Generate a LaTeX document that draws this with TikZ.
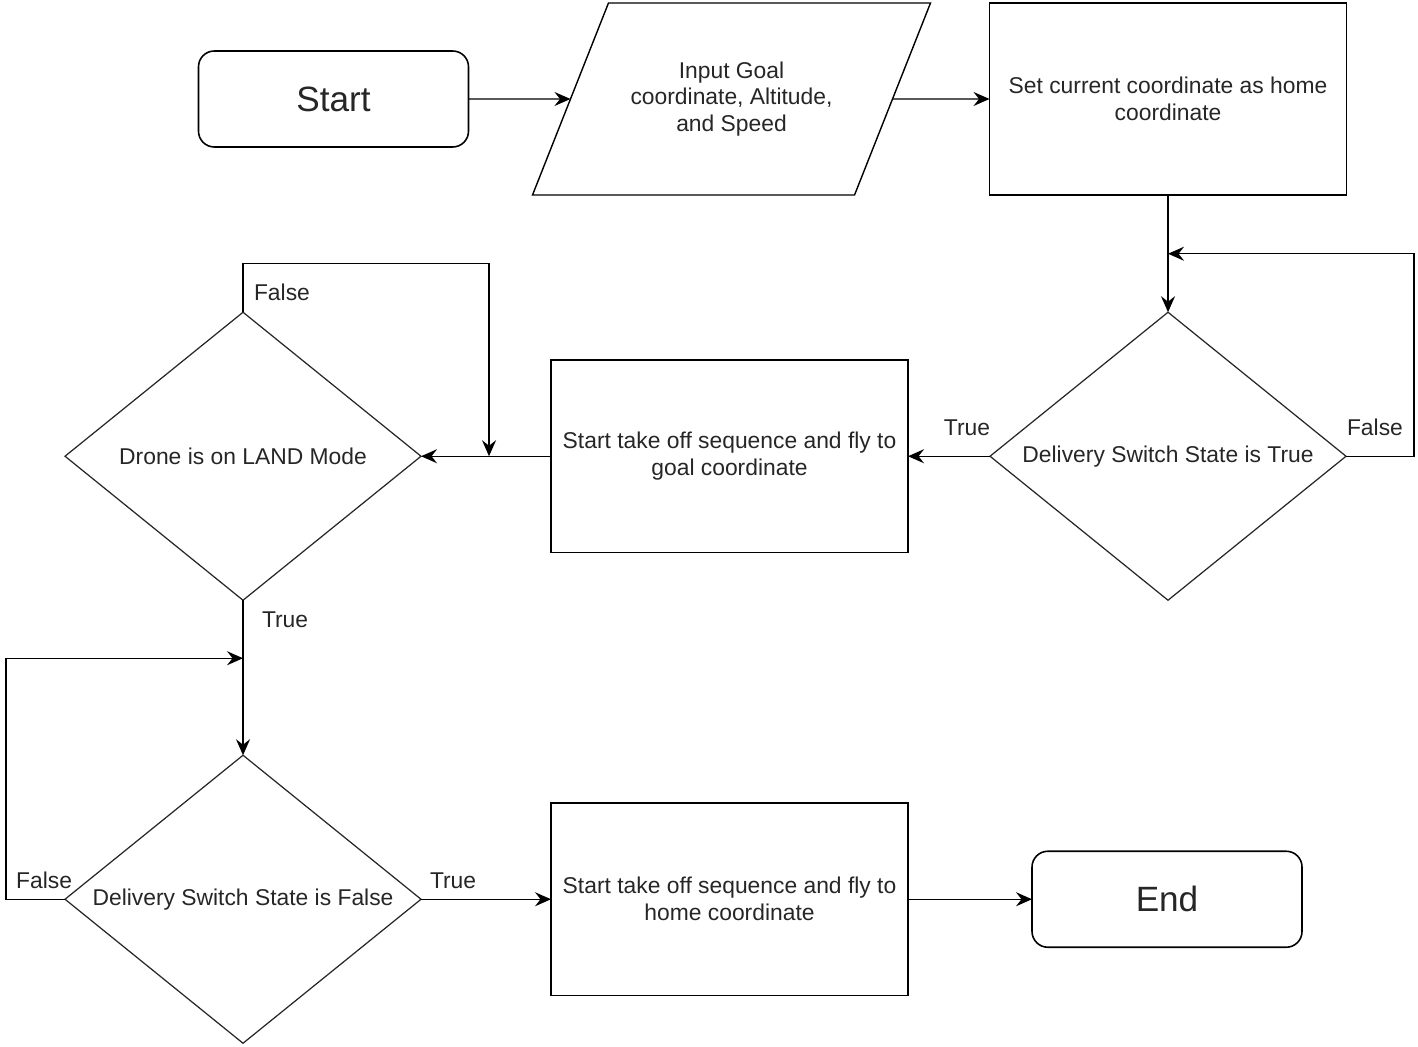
\documentclass[tikz,border=0pt]{standalone}
\usepackage{fontspec}
\setmainfont{Liberation Sans}
\usetikzlibrary{arrows.meta, positioning, shapes}

\begin{document}
\begin{tikzpicture}[
    node distance=2cm,
    every node/.style={outer sep=0pt, text=black!85},
    term/.style={rectangle, rounded corners=9pt, minimum width=5.4cm, minimum height=1.92cm, draw=black, line width=0.9pt, font=\fontsize{20}{24}\selectfont},
    io/.style={trapezium, trapezium left angle=48.8, trapezium right angle=131.2, trapezium stretches body=true, minimum width=7.96cm, minimum height=3.84cm, draw=black, line width=0.8pt, align=center, font=\fontsize{13}{15.3}\selectfont},
    procbox/.style={rectangle, minimum width=7.14cm, minimum height=3.85cm, draw=black, line width=0.9pt, align=center, font=\fontsize{13}{15.3}\selectfont},
    decision/.style={diamond, aspect=1.24, inner sep=0pt, minimum width=7.12cm, minimum height=5.76cm, draw=black!85, line width=0.7pt, font=\fontsize{13}{15.3}\selectfont},
    lbl/.style={inner sep=0pt, font=\fontsize{13}{15.3}\selectfont},
    arrow/.style={-{Stealth[length=3.2mm, width=2.8mm, inset=1.1mm]}, line width=0.8pt}
]
\useasboundingbox (0,0) rectangle (28.36,-20.94);

\node[term] (start) at (6.67,-1.98) {Start};
\node[io, right=2.04cm of start] (input) {Input Goal\\coordinate, Altitude,\\and Speed};
\node[procbox, right=1.94cm of input] (sethome) {Set current coordinate as home\\coordinate};
\node[decision, below=2.34cm of sethome] (swtrue) {Delivery Switch State is True};
\node[procbox, left=1.64cm of swtrue] (flygoal) {Start take off sequence and fly to\\goal coordinate};
\node[decision, left=2.6cm of flygoal] (landmode) {Drone is on LAND Mode};
\node[decision, below=3.1cm of landmode] (swfalse) {Delivery Switch State is False};
\node[procbox, right=2.6cm of swfalse] (flyhome) {Start take off sequence and fly to\\home coordinate};
\node[term, right=2.48cm of flyhome] (end) {End};

\draw[arrow] (start) -- (input);
\draw[arrow] (input) -- (sethome);
\draw[arrow] (sethome) -- (swtrue);
\draw[arrow] (swtrue) -- (flygoal);
\draw[arrow] (flygoal) -- (landmode);
\draw[arrow] (landmode) -- (swfalse);
\draw[arrow] (swfalse) -- (flyhome);
\draw[arrow] (flyhome) -- (end);

% loop-back points
\coordinate[below=1.17cm of sethome] (join1);
\coordinate[right=1.36cm of landmode] (join2);
\coordinate[below=1.16cm of landmode] (join3);

\draw[arrow] (swtrue.east) -- ++(1.36,0) |- (join1);
\draw[arrow] (landmode.north) -- ++(0,0.98) -| (join2);
\draw[arrow] (swfalse.west) -- ++(-1.18,0) |- (join3);

\node[lbl, above left=0.42cm and 0cm of swtrue.west] (t1) {True};
\node[lbl, above right=0.42cm and 0.02cm of swtrue.east] (f1) {False};
\node[lbl, above right=0.24cm and 0.22cm of landmode.north] (f2) {False};
\node[lbl, below right=0.24cm and 0.38cm of landmode.south] (t2) {True};
\node[lbl, above left=0.22cm and -0.14cm of swfalse.west] (f3) {False};
\node[lbl, above right=0.22cm and 0.18cm of swfalse.east] (t3) {True};

\end{tikzpicture}
\end{document}
